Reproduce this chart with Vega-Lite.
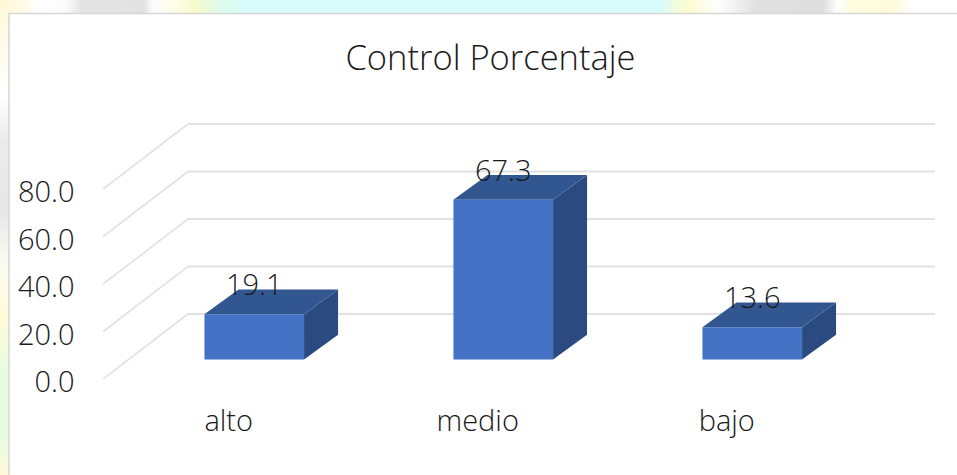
{
"$schema":"https://vega.github.io/schema/vega-lite/v6.json",
"width":957,"height":475,"padding":0,"autosize":{"type":"none"},
"background":"#ffffff",
"view":{"stroke":null},
"title":{"text":"Control Porcentaje","anchor":"middle","orient":"top","offset":-72,"dx":12,"dy":32,"font":"Open Sans","fontSize":34.5,"fontWeight":300,"color":"#1a1a1a","baseline":"alphabetic","zindex":1},
"datasets":{
"barras":[{"categoria":"alto","valor":19.1},{"categoria":"medio","valor":67.3},{"categoria":"bajo","valor":13.6}],
"niveles":[{"nivel":0},{"nivel":20},{"nivel":40},{"nivel":60},{"nivel":80}],
"uno":[{"fondo":1}]
},
"layer":[
{"data":{"name":"uno"},
"mark":{"type":"rect","fill":{"gradient":"linear","x1":0,"x2":1,"y1":0,"y2":0,"stops":[
{"offset":0,"color":"#fff8d8"},{"offset":0.025,"color":"#fffbe6"},{"offset":0.04,"color":"#ffffff"},{"offset":0.068,"color":"#fcfcfc"},{"offset":0.085,"color":"#e4e4e4"},{"offset":0.15,"color":"#e2e2e2"},{"offset":0.16,"color":"#fdfdfd"},{"offset":0.185,"color":"#fffde4"},{"offset":0.205,"color":"#f6fbcc"},{"offset":0.23,"color":"#defbec"},{"offset":0.26,"color":"#d8fcfb"},{"offset":0.69,"color":"#d8fcfb"},{"offset":0.705,"color":"#f0fce0"},{"offset":0.72,"color":"#fcfcd0"},{"offset":0.75,"color":"#ffffff"},{"offset":0.79,"color":"#e0e0e0"},{"offset":0.86,"color":"#dedede"},{"offset":0.875,"color":"#ffffff"},{"offset":0.89,"color":"#fffce0"},{"offset":0.93,"color":"#fffad8"},{"offset":0.955,"color":"#ffffff"},{"offset":1,"color":"#ffffff"}]}},
"encoding":{
"x":{"datum":-1.0211,"type":"quantitative","scale":{"domain":[-1.0211,2.8223],"nice":false,"zero":false},"axis":{"values":[0,1,2],"labelExpr":"['alto','medio','bajo'][datum.value]","title":null,"domain":false,"ticks":false,"grid":false,"orient":"bottom","offset":-68,"labelOffset":-26,"labelPadding":0,"labelFont":"Open Sans","labelFontSize":29,"labelFontWeight":300,"labelColor":"#1a1a1a","labelOverlap":false,"labelBound":false,"labelFlush":false,"zindex":1}},
"x2":{"datum":2.8223},
"y":{"datum":151.37,"type":"quantitative","scale":{"domain":[-48.63,151.37],"nice":false,"zero":false},"axis":{"values":[0,20,40,60,80],"format":".1f","title":null,"domain":false,"ticks":false,"grid":false,"orient":"left","offset":-74,"labelOffset":23,"labelPadding":0,"labelFont":"Open Sans","labelFontSize":29,"labelFontWeight":300,"labelColor":"#1a1a1a","labelOverlap":false,"labelBound":false,"labelFlush":false,"zindex":1}},
"y2":{"datum":-48.63}}},
{"data":{"name":"uno"},
"mark":{"type":"rect","fill":{"gradient":"linear","x1":0,"x2":0,"y1":0,"y2":1,"stops":[
{"offset":0,"color":"#fff8d8"},{"offset":0.1,"color":"#fffbe8"},{"offset":0.2,"color":"#ffffff"},{"offset":0.3,"color":"#eaeaea"},{"offset":0.45,"color":"#e8e8e8"},{"offset":0.55,"color":"#fafaf0"},{"offset":0.67,"color":"#fffbd8"},{"offset":0.78,"color":"#e8fde0"},{"offset":0.92,"color":"#e8fde0"},{"offset":1,"color":"#fff8d8"}]}},
"encoding":{
"x":{"datum":-1.0211,"type":"quantitative","scale":{"domain":[-1.0211,2.8223],"nice":false,"zero":false}},
"x2":{"datum":-0.985},
"y":{"datum":151.37,"type":"quantitative","scale":{"domain":[-48.63,151.37],"nice":false,"zero":false}},
"y2":{"datum":-48.63}}},
{"data":{"name":"uno"},
"mark":{"type":"rect","fill":"#ffffff","stroke":"#d6d6d6","strokeWidth":1.5,"clip":true},
"encoding":{
"x":{"datum":-0.985,"type":"quantitative","scale":{"domain":[-1.0211,2.8223],"nice":false,"zero":false}},
"x2":{"datum":2.9},
"y":{"datum":145.7,"type":"quantitative","scale":{"domain":[-48.63,151.37],"nice":false,"zero":false}},
"y2":{"datum":-60}}},
{"data":{"name":"niveles"},
"transform":[{"calculate":"datum.nivel-8.21","as":"frente"},{"calculate":"datum.nivel+19.16","as":"fondo"}],
"mark":{"type":"rule","color":"#e2e2e2","strokeWidth":1.6},
"encoding":{
"x":{"datum":-0.607,"type":"quantitative","scale":{"domain":[-1.0211,2.8223],"nice":false,"zero":false}},
"x2":{"datum":-0.266},
"y":{"field":"frente","type":"quantitative","scale":{"domain":[-48.63,151.37],"nice":false,"zero":false}},
"y2":{"field":"fondo"}}},
{"data":{"name":"niveles"},
"transform":[{"calculate":"datum.nivel+19.16","as":"fondo"}],
"mark":{"type":"rule","color":"#e2e2e2","strokeWidth":2},
"encoding":{
"x":{"datum":-0.266,"type":"quantitative","scale":{"domain":[-1.0211,2.8223],"nice":false,"zero":false}},
"x2":{"datum":2.734},
"y":{"field":"fondo","type":"quantitative","scale":{"domain":[-48.63,151.37],"nice":false,"zero":false}}}},
{"data":{"name":"barras"},
"transform":[{"calculate":"indexof(['alto','medio','bajo'],datum.categoria)","as":"pos"},{"calculate":"[0,1]","as":"t"},{"flatten":["t"]},{"calculate":"datum.pos+0.2+datum.t*0.1365","as":"xs"},{"calculate":"datum.valor+datum.t*10.42","as":"arriba"},{"calculate":"datum.t*10.42","as":"abajo"}],
"mark":{"type":"area","color":"#2a4a80","orient":"vertical"},
"encoding":{
"detail":{"field":"categoria"},
"x":{"field":"xs","type":"quantitative","scale":{"domain":[-1.0211,2.8223],"nice":false,"zero":false}},
"y":{"field":"arriba","type":"quantitative","stack":null,"scale":{"domain":[-48.63,151.37],"nice":false,"zero":false}},
"y2":{"field":"abajo"}}},
{"data":{"name":"barras"},
"transform":[{"calculate":"indexof(['alto','medio','bajo'],datum.categoria)","as":"pos"},{"calculate":"[0,1]","as":"t"},{"flatten":["t"]},{"calculate":"datum.pos-0.2+datum.t*0.1365","as":"xi"},{"calculate":"datum.pos+0.2+datum.t*0.1365","as":"xd"},{"calculate":"datum.valor+datum.t*10.42","as":"ys"}],
"mark":{"type":"area","color":"#325690","orient":"horizontal"},
"encoding":{
"detail":{"field":"categoria"},
"y":{"field":"ys","type":"quantitative","scale":{"domain":[-48.63,151.37],"nice":false,"zero":false}},
"x":{"field":"xi","type":"quantitative","stack":null,"scale":{"domain":[-1.0211,2.8223],"nice":false,"zero":false}},
"x2":{"field":"xd"}}},
{"data":{"name":"barras"},
"transform":[{"calculate":"indexof(['alto','medio','bajo'],datum.categoria)","as":"pos"},{"calculate":"datum.pos-0.2","as":"xi"},{"calculate":"datum.pos+0.2","as":"xd"}],
"mark":{"type":"rect","color":"#4472c4"},
"encoding":{
"x":{"field":"xi","type":"quantitative","scale":{"domain":[-1.0211,2.8223],"nice":false,"zero":false}},
"x2":{"field":"xd"},
"y":{"field":"valor","type":"quantitative","scale":{"domain":[-48.63,151.37],"nice":false,"zero":false}},
"y2":{"datum":0}}},
{"data":{"name":"barras"},
"transform":[{"calculate":"indexof(['alto','medio','bajo'],datum.categoria)","as":"pos"}],
"mark":{"type":"text","font":"Open Sans","fontSize":29,"fontWeight":300,"color":"#1a1a1a","baseline":"middle","align":"center","dy":-28},
"encoding":{
"x":{"field":"pos","type":"quantitative","scale":{"domain":[-1.0211,2.8223],"nice":false,"zero":false}},
"y":{"field":"valor","type":"quantitative","scale":{"domain":[-48.63,151.37],"nice":false,"zero":false}},
"text":{"field":"valor","type":"quantitative","format":".1f"}}}
]
}
